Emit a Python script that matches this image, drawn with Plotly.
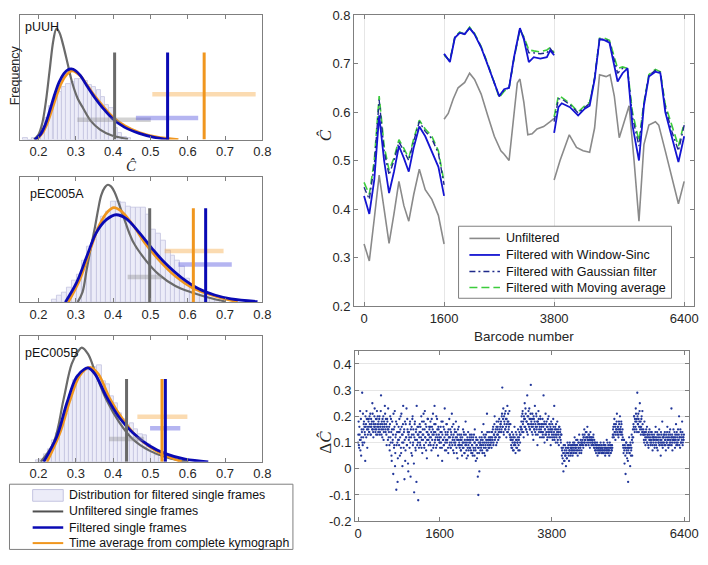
import plotly.graph_objects as go

W, H = 708, 565

# ---------------- left column: C-hat distributions ----------------
plasmids = ['pUUH', 'pEC005A', 'pEC005B']
bin_width = [0.0115, 0.0132, 0.011]

hist1_x = [0.165, 0.177, 0.188, 0.200, 0.211, 0.223, 0.234, 0.246, 0.257, 0.269, 0.280, 0.292, 0.303,
           0.315, 0.326, 0.338, 0.349, 0.361, 0.372, 0.384, 0.395, 0.407, 0.418, 0.430, 0.441]
hist1_y = [0.01, 0.0, 0.01, 0.03, 0.08, 0.17, 0.27, 0.36, 0.38, 0.42, 0.45, 0.46, 0.49,
           0.49, 0.47, 0.44, 0.42, 0.40, 0.34, 0.28, 0.25, 0.09, 0.05, 0.02, 0.01]
hist2_x = [0.243, 0.256, 0.269, 0.283, 0.296, 0.309, 0.322, 0.335, 0.349, 0.362, 0.375, 0.388, 0.401,
           0.415, 0.428, 0.441, 0.454, 0.468, 0.481, 0.494, 0.507, 0.520, 0.534, 0.547, 0.560, 0.573,
           0.586, 0.600, 0.613, 0.626, 0.639, 0.653, 0.666, 0.679]
hist2_y = [0.02, 0.05, 0.08, 0.12, 0.17, 0.22, 0.335, 0.44, 0.50, 0.59, 0.68, 0.72, 0.80,
           0.80, 0.79, 0.76, 0.75, 0.75, 0.75, 0.70, 0.58, 0.55, 0.49, 0.41, 0.37, 0.335,
           0.28, 0.19, 0.12, 0.09, 0.06, 0.04, 0.03, 0.01]
hist3_x = [0.198, 0.209, 0.220, 0.231, 0.242, 0.253, 0.264, 0.275, 0.286, 0.297, 0.308, 0.319, 0.330,
           0.341, 0.352, 0.363, 0.374, 0.385, 0.396, 0.407, 0.418, 0.429, 0.440, 0.451, 0.462, 0.473,
           0.484, 0.495, 0.506, 0.517, 0.528, 0.539]
hist3_y = [0.01, 0.02, 0.057, 0.10, 0.17, 0.23, 0.30, 0.38, 0.49, 0.65, 0.69, 0.71, 0.73,
           0.73, 0.75, 0.77, 0.64, 0.62, 0.52, 0.47, 0.39, 0.34, 0.29, 0.31, 0.26, 0.22,
           0.21, 0.14, 0.08, 0.05, 0.03, 0.01]

# fitted curves (unfiltered / filtered single frames / kymograph time average)
unf1_x = [0.188, 0.200, 0.210, 0.220, 0.230, 0.240, 0.248, 0.256, 0.266, 0.278, 0.290, 0.305, 0.320,
          0.340, 0.365, 0.395, 0.440]
unf1_y = [0.0, 0.04, 0.13, 0.31, 0.56, 0.80, 0.89, 0.86, 0.76, 0.61, 0.46, 0.33, 0.25,
          0.15, 0.08, 0.035, 0.005]
filt1_x = [0.190, 0.205, 0.218, 0.230, 0.242, 0.255, 0.268, 0.280, 0.288, 0.298, 0.312, 0.330, 0.350,
           0.372, 0.398, 0.430, 0.470, 0.510, 0.550]
filt1_y = [0.0, 0.04, 0.12, 0.23, 0.35, 0.46, 0.53, 0.563, 0.567, 0.556, 0.515, 0.43, 0.34,
           0.255, 0.17, 0.10, 0.05, 0.018, 0.0]
time1_x = [0.195, 0.210, 0.222, 0.234, 0.246, 0.258, 0.270, 0.282, 0.291, 0.300, 0.314, 0.332, 0.352,
           0.374, 0.400, 0.432, 0.472, 0.515, 0.575]
time1_y = [0.0, 0.05, 0.12, 0.22, 0.33, 0.43, 0.50, 0.54, 0.55, 0.54, 0.505, 0.43, 0.345,
           0.265, 0.18, 0.11, 0.055, 0.022, 0.0]

unf2_x = [0.305, 0.318, 0.329, 0.340, 0.351, 0.360, 0.368, 0.378, 0.386, 0.395, 0.404, 0.426, 0.452,
          0.487, 0.523, 0.567, 0.611, 0.663, 0.700]
unf2_y = [0.0, 0.08, 0.258, 0.43, 0.593, 0.74, 0.851, 0.915, 0.935, 0.92, 0.876, 0.696, 0.49,
          0.335, 0.219, 0.129, 0.077, 0.031, 0.005]
filt2_x = [0.272, 0.302, 0.329, 0.355, 0.382, 0.408, 0.435, 0.470, 0.505, 0.540, 0.584, 0.628, 0.672,
           0.716, 0.787]
filt2_y = [0.0, 0.155, 0.361, 0.554, 0.657, 0.696, 0.665, 0.554, 0.425, 0.309, 0.193, 0.108, 0.057,
           0.026, 0.005]
time2_x = [0.280, 0.311, 0.338, 0.364, 0.386, 0.402, 0.421, 0.452, 0.487, 0.523, 0.567, 0.611, 0.655,
           0.699, 0.734]
time2_y = [0.0, 0.18, 0.412, 0.619, 0.722, 0.753, 0.727, 0.619, 0.464, 0.335, 0.206, 0.116, 0.064,
           0.026, 0.005]

unf3_x = [0.206, 0.241, 0.267, 0.289, 0.307, 0.316, 0.333, 0.355, 0.382, 0.417, 0.452, 0.496, 0.540,
          0.575, 0.602]
unf3_y = [0.0, 0.156, 0.494, 0.779, 0.883, 0.909, 0.857, 0.688, 0.494, 0.312, 0.182, 0.091, 0.039,
          0.013, 0.0]
filt3_x = [0.214, 0.250, 0.276, 0.302, 0.324, 0.333, 0.351, 0.382, 0.417, 0.452, 0.496, 0.540, 0.593,
           0.655]
filt3_y = [0.0, 0.208, 0.468, 0.675, 0.74, 0.748, 0.701, 0.519, 0.351, 0.234, 0.13, 0.065, 0.021, 0.0]
time3_x = [0.223, 0.258, 0.285, 0.311, 0.338, 0.360, 0.391, 0.426, 0.461, 0.505, 0.549, 0.584]
time3_y = [0.0, 0.234, 0.494, 0.688, 0.753, 0.701, 0.506, 0.338, 0.208, 0.104, 0.039, 0.0]

# means (vertical markers) and spreads (horizontal bars)
mean_unf = [0.404, 0.498, 0.436]
mean_filt = [0.546, 0.648, 0.540]
mean_time = [0.644, 0.615, 0.531]
mean_top = [0.70, 0.747, 0.66]
spread_unf = [[0.304, 0.501], [0.439, 0.531], [0.389, 0.483]]
spread_filt = [[0.461, 0.628], [0.575, 0.718], [0.499, 0.580]]
spread_time = [[0.505, 0.782], [0.538, 0.696], [0.465, 0.599]]
level_unf = [0.16, 0.20, 0.182]
level_filt = [0.173, 0.30, 0.268]
level_time = [0.364, 0.407, 0.358]
left_ticks = [0.2, 0.3, 0.4, 0.5, 0.6, 0.7, 0.8]

# ---------------- top right: C-hat along the barcodes ----------------
seg_unf_x = [
    [0, 105, 204, 302, 401, 500, 598, 697, 796, 894, 993, 1105, 1223, 1355, 1486, 1600],
    [1600, 1683, 1782, 1880, 2012, 2110, 2209, 2341, 2472, 2604, 2735, 2801, 2899, 2965, 3064, 3116,
     3195, 3274, 3360, 3458, 3590, 3721, 3800],
    [3800, 3918, 4103, 4247, 4379, 4510, 4609, 4708, 4839, 4918, 5003, 5102, 5201, 5299, 5398, 5496,
     5595, 5694, 5825, 5891, 6022, 6154, 6285, 6400],
]
seg_unf_y = [
    [0.328, 0.293, 0.38, 0.47, 0.40, 0.329, 0.39, 0.457, 0.407, 0.375, 0.43, 0.482, 0.44, 0.42, 0.387, 0.328],
    [0.585, 0.597, 0.627, 0.65, 0.661, 0.68, 0.667, 0.637, 0.593, 0.55, 0.52, 0.513, 0.50, 0.56, 0.66,
     0.668, 0.62, 0.553, 0.555, 0.565, 0.57, 0.58, 0.587],
    [0.46, 0.50, 0.553, 0.527, 0.52, 0.517, 0.567, 0.677, 0.673, 0.677, 0.633, 0.547, 0.58, 0.613, 0.50,
     0.375, 0.533, 0.573, 0.58, 0.573, 0.52, 0.467, 0.411, 0.457],
]
seg_filt_x = [
    [0, 105, 204, 302, 401, 500, 598, 697, 796, 894, 993, 1105, 1223, 1355, 1486, 1600],
    [1600, 1716, 1815, 1913, 2012, 2110, 2209, 2341, 2472, 2604, 2702, 2801, 2899, 2998, 3116, 3195,
     3294, 3393, 3524, 3655, 3721, 3800],
    [3800, 3886, 3952, 4116, 4280, 4412, 4510, 4609, 4708, 4806, 4905, 4970, 5069, 5168, 5266, 5365,
     5496, 5595, 5694, 5825, 5924, 6022, 6154, 6285, 6400],
]
sinc_y = [
    [0.427, 0.39, 0.46, 0.593, 0.50, 0.433, 0.477, 0.53, 0.505, 0.477, 0.527, 0.57, 0.55, 0.52, 0.487, 0.427],
    [0.72, 0.703, 0.753, 0.763, 0.761, 0.773, 0.76, 0.733, 0.697, 0.66, 0.633, 0.647, 0.65, 0.713, 0.773,
     0.75, 0.703, 0.713, 0.71, 0.713, 0.727, 0.717],
    [0.557, 0.61, 0.618, 0.61, 0.593, 0.607, 0.613, 0.667, 0.75, 0.748, 0.743, 0.713, 0.663, 0.68, 0.69,
     0.573, 0.50, 0.613, 0.673, 0.683, 0.68, 0.60, 0.547, 0.497, 0.55],
]
gauss_y = [
    [0.445, 0.42, 0.49, 0.625, 0.52, 0.47, 0.50, 0.538, 0.52, 0.50, 0.54, 0.58, 0.56, 0.545, 0.515, 0.45],
    [0.719, 0.705, 0.754, 0.764, 0.76, 0.774, 0.761, 0.734, 0.698, 0.661, 0.632, 0.645, 0.65, 0.712, 0.772,
     0.753, 0.722, 0.722, 0.72, 0.722, 0.731, 0.72],
    [0.58, 0.627, 0.627, 0.615, 0.598, 0.61, 0.618, 0.67, 0.75, 0.75, 0.746, 0.72, 0.68, 0.69, 0.69,
     0.59, 0.53, 0.617, 0.675, 0.686, 0.682, 0.61, 0.56, 0.52, 0.573],
]
mavg_y = [
    [0.455, 0.43, 0.50, 0.633, 0.53, 0.48, 0.505, 0.543, 0.525, 0.505, 0.545, 0.583, 0.565, 0.55, 0.52, 0.455],
    [0.717, 0.706, 0.755, 0.765, 0.76, 0.775, 0.762, 0.735, 0.70, 0.662, 0.63, 0.643, 0.65, 0.71, 0.77,
     0.755, 0.728, 0.726, 0.724, 0.728, 0.733, 0.722],
    [0.59, 0.633, 0.63, 0.618, 0.60, 0.613, 0.62, 0.67, 0.752, 0.752, 0.748, 0.725, 0.69, 0.693, 0.69,
     0.60, 0.54, 0.62, 0.677, 0.688, 0.683, 0.615, 0.57, 0.53, 0.578],
]
barcode_ticks = [0, 1600, 3800, 6400]
chat_ticks = [0.2, 0.3, 0.4, 0.5, 0.6, 0.7, 0.8]

# ---------------- bottom right: difference per barcode ----------------
# two interleaved samplings: barcodes 0,10,20,... and 5,15,25,...
dc_values_a = [
    0.10, 0.18, 0.08, 0.13, 0.22, 0.11, 0.05, 0.15, 0.29, 0.09, 0.12, 0.17, 0.10, 0.14, 0.03, 0.16, 0.12, 0.19, 0.08, 0.13,
    0.15, 0.19, 0.14, 0.17, 0.21, 0.13, 0.16, 0.18, 0.25, 0.15, 0.12, 0.17, 0.20, 0.16, 0.14, 0.19, 0.15, 0.22, 0.13, 0.17,
    0.18, 0.15, 0.20, 0.14, 0.16, 0.28, 0.13, 0.17, 0.19, 0.15, 0.11, 0.18, 0.16, 0.21, 0.14, 0.17, 0.09, 0.19, 0.15, 0.23,
    0.12, 0.16, 0.07, 0.20, 0.10, 0.14, 0.03, 0.18, 0.11, -0.02, 0.15, 0.09, 0.22, 0.06, 0.13, -0.08, 0.17, 0.10, 0.04, 0.14,
    0.11, 0.19, 0.05, 0.15, 0.08, 0.21, 0.13, 0.01, 0.17, 0.10, 0.14, -0.04, 0.18, 0.07, 0.12, 0.23, 0.09, 0.15, 0.02, 0.13,
    0.14, 0.08, 0.18, -0.03, 0.12, 0.16, 0.05, 0.20, 0.10, 0.13, -0.09, 0.17, 0.11, 0.07, 0.15, 0.24, 0.09, 0.13, -0.12, 0.16,
    0.12, 0.17, 0.09, 0.14, 0.20, 0.11, 0.06, 0.15, 0.13, 0.18, 0.08, 0.22, 0.12, 0.10, 0.16, 0.04, 0.14, 0.19, 0.11, 0.13,
    0.15, 0.10, 0.18, 0.12, 0.07, 0.16, 0.13, 0.21, 0.09, 0.14, 0.24, 0.11, 0.17, 0.08, 0.13, 0.19, 0.12, 0.05, 0.15, 0.11,
    0.12, 0.08, 0.16, 0.10, 0.14, 0.03, 0.18, 0.11, 0.09, 0.15, 0.23, 0.10, 0.13, 0.07, 0.17, 0.11, 0.14, 0.06, 0.12, 0.19,
    0.10, 0.15, 0.08, 0.13, 0.21, 0.09, 0.12, 0.17, 0.06, 0.11, 0.14, 0.10, 0.18, 0.08, 0.12, 0.04, 0.15, 0.11, 0.09, 0.13,
    0.09, 0.12, 0.07, 0.11, 0.05, 0.10, 0.15, 0.08, 0.13, 0.06, 0.10, 0.18, 0.09, 0.04, 0.11, 0.08, 0.14, 0.07, 0.10, 0.12,
    0.08, 0.11, 0.06, 0.13, 0.09, 0.05, 0.12, 0.07, 0.10, 0.15, 0.08, 0.03, 0.11, 0.09, 0.06, -0.03, -0.10, 0.08, -0.01, 0.10,
    0.07, 0.11, 0.09, 0.14, 0.06, 0.10, 0.17, 0.08, 0.12, 0.05, 0.09, 0.13, 0.10, 0.21, 0.07, 0.11, 0.08, 0.14, 0.09, 0.12,
    0.09, 0.12, 0.08, 0.14, 0.11, 0.16, 0.10, 0.13, 0.20, 0.12, 0.15, 0.09, 0.18, 0.13, 0.16, 0.11, 0.14, 0.19, 0.12, 0.16,
    0.17, 0.14, 0.20, 0.31, 0.16, 0.23, 0.13, 0.18, 0.21, 0.15, 0.19, 0.12, 0.17, 0.24, 0.14, 0.18, 0.16, 0.22, 0.13, 0.17,
    0.11, 0.08, 0.14, 0.10, 0.07, 0.12, 0.09, 0.16, 0.10, 0.06, 0.11, 0.13, 0.08, 0.10, 0.15, 0.09, 0.12, 0.07, 0.10, 0.13,
    0.16, 0.20, 0.14, 0.22, 0.18, 0.12, 0.19, 0.25, 0.16, 0.21, 0.15, 0.18, 0.28, 0.13, 0.20, 0.17, 0.23, 0.15, 0.19, 0.32,
    0.18, 0.14, 0.21, 0.16, 0.11, 0.19, 0.15, 0.24, 0.17, 0.13, 0.20, 0.16, 0.09, 0.18, 0.22, 0.14, 0.17, 0.12, 0.19, 0.15,
    0.16, 0.12, 0.19, 0.14, 0.28, 0.17, 0.10, 0.15, 0.21, 0.13, 0.18, 0.11, 0.16, 0.14, 0.20, 0.12, 0.17, 0.15, 0.09, 0.18,
    0.14, 0.17, 0.11, 0.19, 0.13, 0.24, 0.12, 0.16, 0.10, 0.15, 0.13, 0.18, 0.11, 0.14, 0.09, 0.16, 0.12, 0.15, 0.10, 0.13,
    0.05, 0.02, 0.08, -0.01, 0.06, 0.03, 0.09, 0.05, 0.01, 0.07, 0.04, 0.10, 0.06, 0.08, 0.03, 0.07, 0.09, 0.05, 0.08, 0.06,
    0.08, 0.05, 0.10, 0.07, 0.09, 0.12, 0.06, 0.08, 0.11, 0.07, 0.09, 0.05, 0.10, 0.08, 0.13, 0.07, 0.09, 0.11, 0.06, 0.10,
    0.10, 0.13, 0.08, 0.12, 0.15, 0.10, 0.11, 0.14, 0.09, 0.12, 0.16, 0.11, 0.13, 0.10, 0.12, 0.08, 0.14, 0.11, 0.09, 0.12,
    0.11, 0.09, 0.13, 0.08, 0.10, 0.07, 0.09, 0.06, 0.08, 0.10, 0.05, 0.08, 0.07, 0.09, 0.06, 0.08, 0.10, 0.07, 0.09, 0.06,
    0.08, 0.06, 0.10, 0.07, 0.09, 0.05, 0.08, 0.07, 0.11, 0.06, 0.08, 0.09, 0.07, 0.05, 0.10, 0.08, 0.06, 0.09, 0.07, 0.08,
    0.13, 0.16, 0.12, 0.19, 0.14, 0.11, 0.17, 0.15, 0.21, 0.13, 0.16, 0.12, 0.18, 0.14, 0.20, 0.15, 0.13, 0.17, 0.11, 0.15,
    0.09, 0.06, 0.11, 0.02, 0.08, -0.02, 0.10, 0.07, 0.04, 0.09, -0.05, 0.08, 0.12, 0.06, 0.01, 0.09, 0.07, 0.13, 0.05, 0.10,
    0.12, 0.16, 0.20, 0.14, 0.18, 0.23, 0.15, 0.19, 0.29, 0.17, 0.21, 0.14, 0.18, 0.25, 0.16, 0.13, 0.19, 0.15, 0.22, 0.14,
    0.15, 0.11, 0.18, 0.13, 0.09, 0.14, 0.12, 0.16, 0.10, 0.13, 0.08, 0.12, 0.15, 0.11, 0.09, 0.14, 0.10, 0.13, 0.07, 0.12,
    0.10, 0.13, 0.08, 0.12, 0.16, 0.09, 0.11, 0.14, 0.07, 0.12, 0.10, 0.15, 0.09, 0.11, 0.05, 0.13, 0.10, 0.18, 0.08, 0.12,
    0.12, 0.09, 0.14, 0.11, 0.07, 0.13, 0.10, 0.16, 0.12, 0.08, 0.11, 0.14, 0.09, 0.13, 0.10, 0.23, 0.12, 0.07, 0.11, 0.15,
    0.11, 0.14, 0.08, 0.12, 0.17, 0.10, 0.13, 0.09, 0.15, 0.11, 0.20, 0.12, 0.08, 0.14, 0.10, 0.13, 0.18, 0.09, 0.12, 0.11,
]
dc_values_b = [
    0.13, 0.09, 0.16, 0.11, 0.07, 0.19, 0.12, 0.14, 0.10, 0.21, 0.15, 0.18, 0.16, 0.13, 0.20, 0.17, 0.22, 0.15, 0.19, 0.16,
    0.18, 0.14, 0.20, 0.16, 0.13, 0.19, 0.17, 0.15, 0.21, 0.14, 0.18, 0.16, 0.23, 0.15, 0.17, 0.13, 0.19, 0.16, 0.20, 0.14,
    0.16, 0.19, 0.13, 0.17, 0.22, 0.15, 0.18, 0.12, 0.16, 0.20, 0.14, 0.17, 0.24, 0.15, 0.19, 0.13, 0.16, 0.18, 0.11, 0.15,
    0.14, 0.09, 0.17, 0.12, 0.19, 0.05, 0.15, 0.10, 0.13, 0.21, 0.08, 0.16, 0.01, 0.12, 0.18, 0.09, 0.14, -0.05, 0.11, 0.16,
    0.09, 0.14, 0.12, 0.20, 0.06, 0.16, 0.10, 0.13, 0.24, 0.08, 0.15, 0.11, 0.03, 0.17, 0.12, 0.09, 0.19, 0.14, -0.01, 0.11,
    0.12, 0.17, 0.10, 0.15, 0.06, 0.13, 0.19, 0.09, 0.15, 0.02, 0.12, 0.18, 0.08, 0.14, -0.05, 0.11, 0.16, 0.10, 0.13, 0.08,
    0.14, 0.10, 0.16, 0.12, 0.08, 0.18, 0.13, 0.11, 0.21, 0.09, 0.15, 0.12, 0.17, 0.07, 0.14, 0.11, 0.19, 0.13, 0.09, 0.16,
    0.12, 0.16, 0.09, 0.14, 0.19, 0.11, 0.15, 0.08, 0.13, 0.17, 0.10, 0.14, 0.12, 0.20, 0.09, 0.15, 0.11, 0.16, 0.13, 0.10,
    0.10, 0.14, 0.12, 0.18, 0.08, 0.13, 0.11, 0.16, 0.09, 0.12, 0.07, 0.14, 0.11, 0.17, 0.10, 0.13, 0.08, 0.15, 0.12, 0.09,
    0.12, 0.08, 0.14, 0.10, 0.16, 0.11, 0.07, 0.13, 0.10, 0.15, 0.09, 0.12, 0.14, 0.06, 0.11, 0.13, 0.09, 0.16, 0.10, 0.08,
    0.11, 0.07, 0.13, 0.09, 0.12, 0.08, 0.10, 0.14, 0.06, 0.11, 0.09, 0.13, 0.07, 0.10, 0.12, 0.05, 0.09, 0.11, 0.08, 0.13,
    0.10, 0.07, 0.12, 0.09, 0.06, 0.11, 0.08, 0.13, 0.05, 0.10, 0.07, 0.12, 0.09, 0.04, 0.11, 0.08, 0.10, 0.06, 0.12, 0.09,
    0.10, 0.08, 0.12, 0.07, 0.11, 0.09, 0.13, 0.06, 0.10, 0.12, 0.08, 0.11, 0.07, 0.14, 0.09, 0.10, 0.12, 0.08, 0.11, 0.10,
    0.11, 0.14, 0.10, 0.12, 0.15, 0.09, 0.13, 0.17, 0.11, 0.14, 0.12, 0.16, 0.10, 0.15, 0.13, 0.18, 0.12, 0.15, 0.14, 0.17,
    0.18, 0.15, 0.21, 0.16, 0.19, 0.14, 0.20, 0.17, 0.15, 0.22, 0.16, 0.19, 0.14, 0.18, 0.21, 0.15, 0.17, 0.13, 0.12, 0.11,
    0.09, 0.12, 0.08, 0.11, 0.13, 0.07, 0.10, 0.12, 0.09, 0.14, 0.08, 0.11, 0.10, 0.12, 0.07, 0.11, 0.14, 0.13, 0.16, 0.15,
    0.18, 0.15, 0.21, 0.17, 0.14, 0.20, 0.16, 0.19, 0.23, 0.15, 0.18, 0.14, 0.20, 0.17, 0.22, 0.16, 0.19, 0.15, 0.21, 0.17,
    0.16, 0.19, 0.13, 0.17, 0.20, 0.15, 0.18, 0.14, 0.16, 0.21, 0.15, 0.18, 0.13, 0.17, 0.19, 0.15, 0.16, 0.20, 0.14, 0.17,
    0.14, 0.17, 0.13, 0.16, 0.12, 0.18, 0.15, 0.13, 0.17, 0.14, 0.16, 0.12, 0.19, 0.15, 0.13, 0.17, 0.14, 0.16, 0.12, 0.15,
    0.13, 0.15, 0.12, 0.16, 0.14, 0.11, 0.15, 0.13, 0.17, 0.12, 0.14, 0.10, 0.15, 0.13, 0.16, 0.12, 0.14, 0.11, 0.13, 0.08,
    0.07, 0.04, 0.06, 0.09, 0.03, 0.07, 0.05, 0.08, 0.06, 0.04, 0.08, 0.06, 0.09, 0.05, 0.07, 0.10, 0.06, 0.08, 0.07, 0.09,
    0.07, 0.09, 0.06, 0.08, 0.10, 0.07, 0.09, 0.08, 0.06, 0.09, 0.11, 0.07, 0.08, 0.10, 0.06, 0.09, 0.08, 0.10, 0.07, 0.09,
    0.11, 0.09, 0.12, 0.10, 0.13, 0.11, 0.09, 0.12, 0.14, 0.10, 0.12, 0.11, 0.09, 0.13, 0.11, 0.12, 0.10, 0.12, 0.11, 0.10,
    0.10, 0.12, 0.09, 0.11, 0.08, 0.10, 0.07, 0.09, 0.08, 0.07, 0.09, 0.06, 0.08, 0.07, 0.09, 0.07, 0.08, 0.06, 0.08, 0.07,
    0.07, 0.09, 0.06, 0.08, 0.07, 0.09, 0.06, 0.08, 0.07, 0.10, 0.07, 0.06, 0.08, 0.07, 0.09, 0.06, 0.08, 0.07, 0.09, 0.12,
    0.15, 0.13, 0.17, 0.14, 0.16, 0.13, 0.15, 0.18, 0.14, 0.16, 0.15, 0.13, 0.17, 0.15, 0.14, 0.16, 0.18, 0.14, 0.13, 0.12,
    0.08, 0.11, 0.07, 0.09, 0.05, 0.08, 0.10, 0.06, 0.08, 0.03, 0.07, 0.09, 0.06, 0.08, 0.10, 0.05, 0.08, 0.11, 0.12, 0.15,
    0.17, 0.20, 0.15, 0.19, 0.16, 0.21, 0.18, 0.14, 0.20, 0.17, 0.19, 0.16, 0.22, 0.15, 0.18, 0.16, 0.20, 0.14, 0.17, 0.13,
    0.13, 0.10, 0.14, 0.12, 0.11, 0.15, 0.10, 0.13, 0.12, 0.09, 0.14, 0.11, 0.13, 0.10, 0.12, 0.11, 0.14, 0.09, 0.12, 0.11,
    0.12, 0.09, 0.11, 0.14, 0.10, 0.12, 0.08, 0.13, 0.11, 0.10, 0.13, 0.09, 0.12, 0.10, 0.14, 0.11, 0.09, 0.12, 0.10, 0.13,
    0.10, 0.13, 0.11, 0.09, 0.12, 0.10, 0.14, 0.11, 0.09, 0.13, 0.12, 0.10, 0.15, 0.11, 0.12, 0.09, 0.13, 0.10, 0.12, 0.11,
    0.12, 0.10, 0.13, 0.11, 0.09, 0.14, 0.12, 0.10, 0.11, 0.13, 0.09, 0.12, 0.15, 0.10, 0.12, 0.11, 0.14, 0.10, 0.12, 0.13,
]
dc_barcode_a = list(range(0, 10 * len(dc_values_a), 10))
dc_barcode_b = list(range(5, 10 * len(dc_values_b), 10))
dc_ticks = [-0.2, -0.1, 0, 0.1, 0.2, 0.3, 0.4]
dc_ticktext = ['-0.2', '-0.1', '0', '0.1', '0.2', '0.3', '0.4']

left_legend = ['Distribution for filtered single frames', 'Unfiltered single frames',
               'Filtered single frames', 'Time average from complete kymograph']
right_legend = ['Unfiltered', 'Filtered with Window-Sinc', 'Filtered with Gaussian filter',
                'Filtered with Moving average']

# ---------------- styling ----------------
FONT = 'Liberation Sans, Arial, sans-serif'
SERIF = 'Liberation Serif, DejaVu Serif, serif'
AX = '#7f7f7f'
TXT = '#262626'
GRAY, BLUE, ORANGE = '#6a6a6a', '#0a0ab4', '#f0961e'
HIST_FILL, HIST_EDGE = '#ececf8', '#c4c4e0'
GRAY_BAR, BLUE_BAR, ORANGE_BAR = 'rgba(140,140,140,0.38)', 'rgba(70,70,220,0.40)', 'rgba(245,160,50,0.38)'
R_GRAY, R_SINC, R_GAUSS, R_MAVG = '#8a8a8a', '#1414d2', '#1f2a8a', '#3ccc3c'
DOT = '#22379a'

OFF = 8  # the page places the figure 8px from the window corner


def px(x):
    return min(max((x - OFF) / W, 0), 1)


def py(y):
    return min(max(1 - (y - OFF) / H, 0), 1)


def base_axis(**kw):
    d = dict(showline=True, linecolor=AX, linewidth=1, mirror='ticks', ticks='inside', ticklen=4,
             tickcolor=AX, zeroline=False, showgrid=False, ticklabeloverflow='allow',
             tickfont=dict(family=FONT, size=13, color=TXT))
    d.update(kw)
    return d


fig = go.Figure()

hist_x = [hist1_x, hist2_x, hist3_x]
hist_y = [hist1_y, hist2_y, hist3_y]
unf_x, unf_y = [unf1_x, unf2_x, unf3_x], [unf1_y, unf2_y, unf3_y]
filt_x, filt_y = [filt1_x, filt2_x, filt3_x], [filt1_y, filt2_y, filt3_y]
time_x, time_y = [time1_x, time2_x, time3_x], [time1_y, time2_y, time3_y]
left_boxes = [(8, 136), (174, 303), (338, 467)]
label_pos = [(22.7, 20), (27.7, 192), (22.7, 355)]

layout_axes = {}
annotations = []
for i in range(3):
    sfx = '' if i == 0 else str(i + 1)
    xa, ya = 'x' + sfx, 'y' + sfx
    fig.add_trace(go.Bar(x=hist_x[i], y=hist_y[i], width=bin_width[i], xaxis=xa, yaxis=ya,
                         marker=dict(color=HIST_FILL, line=dict(color=HIST_EDGE, width=0.8)),
                         showlegend=False, hoverinfo='skip'))
    for xs, ys, col, lw in [(unf_x[i], unf_y[i], GRAY, 2.2),
                            (time_x[i], time_y[i], ORANGE, 2.6),
                            (filt_x[i], filt_y[i], BLUE, 2.8)]:
        fig.add_trace(go.Scatter(x=xs, y=ys, mode='lines',
                                 line=dict(color=col, width=lw, shape='spline', smoothing=1.0),
                                 xaxis=xa, yaxis=ya, showlegend=False))
    for rng, lvl, col in [(spread_unf[i], level_unf[i], GRAY_BAR),
                          (spread_filt[i], level_filt[i], BLUE_BAR),
                          (spread_time[i], level_time[i], ORANGE_BAR)]:
        fig.add_trace(go.Scatter(x=rng, y=[lvl, lvl], mode='lines', line=dict(color=col, width=4.5),
                                 xaxis=xa, yaxis=ya, showlegend=False))
    for m, col in [(mean_unf[i], GRAY), (mean_time[i], ORANGE), (mean_filt[i], BLUE)]:
        fig.add_trace(go.Scatter(x=[m, m], y=[0, mean_top[i]], mode='lines', line=dict(color=col, width=3),
                                 xaxis=xa, yaxis=ya, showlegend=False))
    top, bot = left_boxes[i]
    layout_axes['xaxis' + sfx] = base_axis(domain=[px(19), px(265)], range=[0.15, 0.8], tickvals=left_ticks,
                                            ticktext=[f'{t:.1f}' for t in left_ticks], anchor=ya)
    layout_axes['yaxis' + sfx] = base_axis(domain=[py(bot), py(top)], range=[0, 1], showticklabels=False,
                                            ticks='', mirror=True, anchor=xa)
    lx, ly = label_pos[i]
    annotations.append(dict(x=px(lx), y=py(ly), xref='paper', yref='paper', text=plasmids[i], showarrow=False,
                            xanchor='left', yanchor='middle', font=dict(family=FONT, size=12.5, color='#111111')))

# top right
for k in range(3):
    fig.add_trace(go.Scatter(x=seg_unf_x[k], y=seg_unf_y[k], mode='lines', line=dict(color=R_GRAY, width=1.6),
                             xaxis='x4', yaxis='y4', showlegend=False))
    fig.add_trace(go.Scatter(x=seg_filt_x[k], y=mavg_y[k], mode='lines',
                             line=dict(color=R_MAVG, width=1.6, dash='8px,4px'),
                             xaxis='x4', yaxis='y4', showlegend=False))
    fig.add_trace(go.Scatter(x=seg_filt_x[k], y=gauss_y[k], mode='lines',
                             line=dict(color=R_GAUSS, width=1.4, dash='6px,3px,2px,3px'),
                             xaxis='x4', yaxis='y4', showlegend=False))
    fig.add_trace(go.Scatter(x=seg_filt_x[k], y=sinc_y[k], mode='lines', line=dict(color=R_SINC, width=1.8),
                             xaxis='x4', yaxis='y4', showlegend=False))

layout_axes['xaxis4'] = base_axis(domain=[px(358), px(703)], range=[-200, 6600], tickvals=barcode_ticks,
                                  showgrid=True, gridcolor='#e6e6e6', anchor='y4')
layout_axes['yaxis4'] = base_axis(domain=[py(307), py(8)], range=[0.2, 0.8], tickvals=chat_ticks,
                                  ticktext=[f'{t:.1f}' for t in chat_ticks], anchor='x4')

# bottom right
for bx, vals in [(dc_barcode_a, dc_values_a), (dc_barcode_b, dc_values_b)]:
    fig.add_trace(go.Scatter(x=bx, y=vals, mode='markers',
                             marker=dict(color=DOT, size=2.3, line=dict(width=0)),
                             xaxis='x5', yaxis='y5', showlegend=False))
layout_axes['xaxis5'] = base_axis(domain=[px(359), px(698)], range=[-60, 6500], tickvals=barcode_ticks,
                                  anchor='y5')
layout_axes['yaxis5'] = base_axis(domain=[py(528), py(353)], range=[-0.2, 0.45], tickvals=dc_ticks,
                                  ticktext=dc_ticktext, showgrid=True, gridcolor='#e6e6e6', anchor='x5')

# axis labels
axis_labels = [
    dict(x=px(14), y=py(70), text='Frequency', textangle=-90, font=dict(family=FONT, size=12.5, color=TXT)),
    dict(x=px(132), y=py(163), text='<i>Ĉ</i>', font=dict(family=SERIF, size=15, color=TXT)),
    dict(x=px(329), y=py(131), text='<i>Ĉ</i>', textangle=-90, font=dict(family=SERIF, size=17, color=TXT)),
    dict(x=px(329), y=py(447), text='Δ<i>Ĉ</i>', textangle=-90, font=dict(family=SERIF, size=17, color=TXT)),
    dict(x=px(530), y=py(338), text='Barcode number', font=dict(family=FONT, size=13.5, color=TXT)),
]
for a in axis_labels:
    a.update(xref='paper', yref='paper', showarrow=False, xanchor='center', yanchor='middle')
annotations += axis_labels

# legends drawn as boxed keys
shapes = []
shapes.append(dict(type='rect', xref='paper', yref='paper', x0=px(8.5), x1=px(296), y0=py(557), y1=py(490),
                   line=dict(color=AX, width=1), fillcolor='white'))
left_rows = [501.5, 518, 534.5, 550.5]
shapes.append(dict(type='rect', xref='paper', yref='paper', x0=px(32), x1=px(63), y0=py(507.5), y1=py(495.5),
                   line=dict(color=HIST_EDGE, width=1), fillcolor=HIST_FILL))
for yy, col, lw in zip(left_rows[1:], ['#505050', BLUE, ORANGE], [2, 2.5, 2]):
    shapes.append(dict(type='line', xref='paper', yref='paper', x0=px(32), x1=px(63), y0=py(yy), y1=py(yy),
                       line=dict(color=col, width=lw)))
for yy, txt in zip(left_rows, left_legend):
    annotations.append(dict(x=px(67), y=py(yy), xref='paper', yref='paper', text=txt, showarrow=False,
                            xanchor='left', yanchor='middle', font=dict(family=FONT, size=12.3, color='#111111')))

shapes.append(dict(type='rect', xref='paper', yref='paper', x0=px(464), x1=px(680), y0=py(299), y1=py(225),
                   line=dict(color=AX, width=1), fillcolor='white'))
right_rows = [237.5, 254.5, 271.5, 288]
right_styles = [(R_GRAY, 1.6, 'solid'), (R_SINC, 1.8, 'solid'), (R_GAUSS, 1.4, '6px,3px,2px,3px'),
                (R_MAVG, 1.6, '8px,4px')]
for yy, (col, lw, ds), txt in zip(right_rows, right_styles, right_legend):
    shapes.append(dict(type='line', xref='paper', yref='paper', x0=px(475), x1=px(506), y0=py(yy), y1=py(yy),
                       line=dict(color=col, width=lw, dash=ds)))
    annotations.append(dict(x=px(510), y=py(yy), xref='paper', yref='paper', text=txt, showarrow=False,
                            xanchor='left', yanchor='middle', font=dict(family=FONT, size=12.5, color='#111111')))

fig.update_layout(width=W, height=H, margin=dict(l=0, r=0, t=0, b=0), paper_bgcolor='white',
                  plot_bgcolor='white', showlegend=False, bargap=0, annotations=annotations, shapes=shapes,
                  **layout_axes)
fig.write_html('out.html')
